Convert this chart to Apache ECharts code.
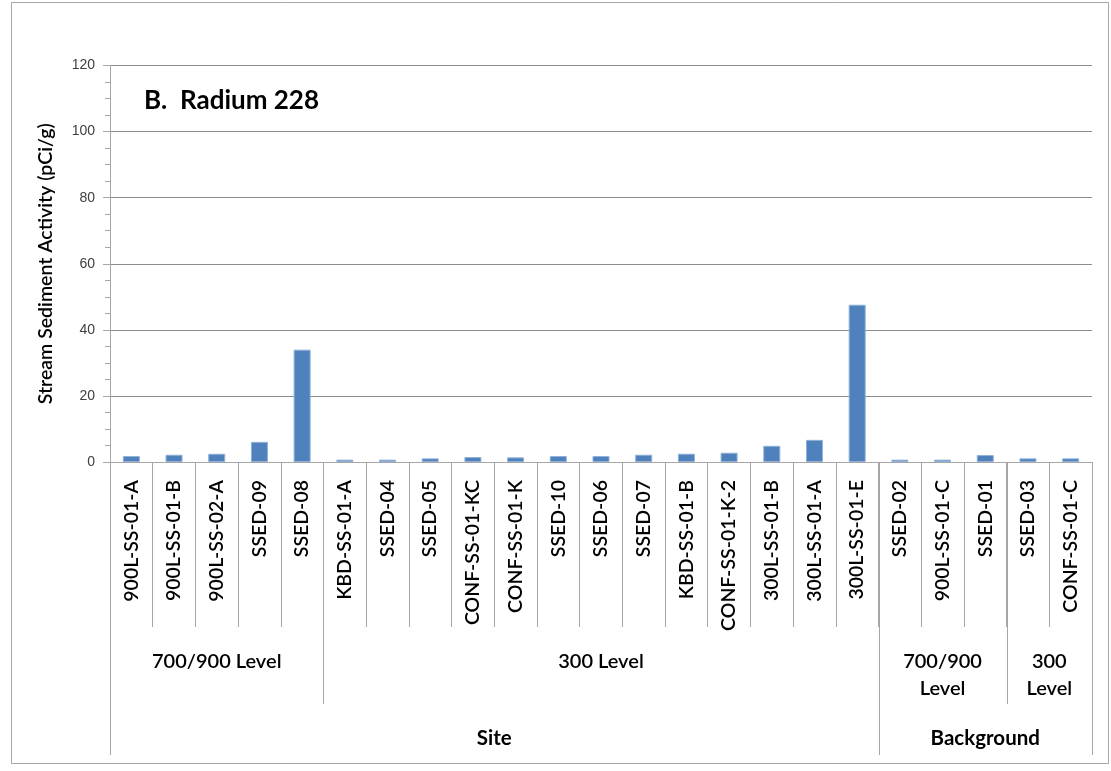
<!DOCTYPE html>
<html>
<head>
<meta charset="utf-8">
<script src="https://cdn.jsdelivr.net/npm/echarts@6/dist/echarts.min.js"></script>
<style>
  html, body { margin: 0; padding: 0; background: #fff; }
  #chart { width: 1111px; height: 771px; }
</style>
</head>
<body>
<div id="chart"></div>
<script>
// Sample locations along the category axis
const samples = [
  '900L-SS-01-A', '900L-SS-01-B', '900L-SS-02-A', 'SSED-09', 'SSED-08',
  'KBD-SS-01-A', 'SSED-04', 'SSED-05', 'CONF-SS-01-KC', 'CONF-SS-01-K',
  'SSED-10', 'SSED-06', 'SSED-07', 'KBD-SS-01-B', 'CONF-SS-01-K-2',
  '300L-SS-01-B', '300L-SS-01-A', '300L-SS-01-E',
  'SSED-02', '900L-SS-01-C', 'SSED-01',
  'SSED-03', 'CONF-SS-01-C'
];

// Radium 228 activity in stream sediment (pCi/g)
const radium228 = [
  1.8, 2.2, 2.5, 6.1, 34.0,
  0.7, 0.7, 1.1, 1.5, 1.4,
  1.8, 1.8, 2.2, 2.5, 2.8,
  4.9, 6.7, 47.6,
  0.7, 0.7, 2.1,
  1.1, 1.1
];

// Second tier of the axis: level groups (start index, end index exclusive)
const levelNames  = ['700/900 Level', '300 Level', '700/900\nLevel', '300\nLevel'];
const levelStarts = [0, 5, 18, 21];
const levelEnds   = [5, 18, 21, 23];

// Third tier of the axis: site vs background
const areaNames  = ['Site', 'Background'];
const areaStarts = [0, 18];
const areaEnds   = [18, 23];

const yTicks = { min: 0, max: 120, interval: 20 };

const FONT = 'Lato, "Open Sans", sans-serif';
const LINE = '#a6a6a6';

// tier: 1 = level groups, 2 = site/background
const groupRows = [];
levelNames.forEach((n, i) => groupRows.push([levelStarts[i], levelEnds[i], 1, n]));
areaNames.forEach((n, i) => groupRows.push([areaStarts[i], areaEnds[i], 2, n]));

const TIER = {
  1: { lineLen: 242, textOffset: 186, weight: '600', size: 20 },
  2: { lineLen: 293, textOffset: 276, weight: 'bold', size: 20.5 }
};

function renderGroup(params, api) {
  const start = api.value(0), end = api.value(1), tier = api.value(2);
  const label = groupRows[params.dataIndex][3];
  const p0 = api.coord([start, 0]);
  const p1 = api.coord([end, 0]);
  const base = p0[1];
  const t = TIER[tier];
  const mkLine = x => ({
    type: 'line',
    shape: { x1: Math.round(x) + 0.5, y1: base, x2: Math.round(x) + 0.5, y2: base + t.lineLen },
    style: { stroke: LINE, lineWidth: 1 }
  });
  return {
    type: 'group',
    children: [
      mkLine(p0[0]),
      mkLine(p1[0]),
      {
        type: 'text',
        x: (p0[0] + p1[0]) / 2,
        y: base + t.textOffset,
        style: {
          text: label,
          fill: '#000',
          font: t.weight + ' ' + t.size + 'px ' + FONT,
          align: 'center',
          verticalAlign: tier === 1 ? 'top' : 'middle',
          lineHeight: 27
        }
      }
    ]
  };
}

const chart = echarts.init(document.getElementById('chart'), null, { renderer: 'canvas' });

chart.setOption({
  animation: false,
  backgroundColor: '#fff',
  textStyle: { fontFamily: FONT },
  title: {
    text: 'B.  Radium 228',
    left: 139,
    top: 83,
    textStyle: { fontSize: 26, fontWeight: 'bold', color: '#000', fontFamily: FONT }
  },
  graphic: [{
    type: 'rect',
    shape: { x: 11.5, y: 2.5, width: 1097, height: 761 },
    style: { fill: 'none', stroke: '#a6a6a6', lineWidth: 1 },
    silent: true,
    z: -1
  }],
  grid: { left: 110, right: 19, top: 65.5, bottom: 309, containLabel: false },
  xAxis: [
    {
      type: 'category',
      data: samples,
      axisLine: { lineStyle: { color: LINE } },
      axisTick: { show: true, interval: 0, length: 165, lineStyle: { color: LINE } },
      axisLabel: {
        interval: 0,
        rotate: 90,
        margin: 18,
        fontSize: 19.5,
        fontWeight: 600,
        color: '#000',
        fontFamily: FONT
      }
    },
    { type: 'value', min: 0, max: samples.length, show: false }
  ],
  yAxis: {
    type: 'value',
    min: yTicks.min,
    max: yTicks.max,
    interval: yTicks.interval,
    name: 'Stream Sediment Activity (pCi/g)',
    nameLocation: 'middle',
    nameGap: 54,
    nameTextStyle: { fontSize: 19.5, fontWeight: 600, color: '#000', fontFamily: FONT },
    axisLine: { show: true, lineStyle: { color: LINE } },
    axisTick: { show: true, length: 7, lineStyle: { color: LINE } },
    minorTick: { show: true, splitNumber: 4, length: 5, lineStyle: { color: LINE } },
    axisLabel: {
      margin: 15,
      fontSize: 14,
      color: '#404040',
      fontFamily: '"Liberation Sans", Arial, sans-serif'
    },
    splitLine: { show: true, lineStyle: { color: '#8c8c8c', width: 1 } }
  },
  series: [
    {
      type: 'bar',
      data: radium228,
      barWidth: 17,
      itemStyle: { color: '#4f81bd', borderColor: '#8fb0d8', borderWidth: 1 },
      xAxisIndex: 0,
      yAxisIndex: 0
    },
    {
      type: 'custom',
      xAxisIndex: 1,
      yAxisIndex: 0,
      clip: false,
      silent: true,
      renderItem: renderGroup,
      data: groupRows.map(r => [r[0], r[1], r[2]])
    }
  ]
});
</script>
</body>
</html>
